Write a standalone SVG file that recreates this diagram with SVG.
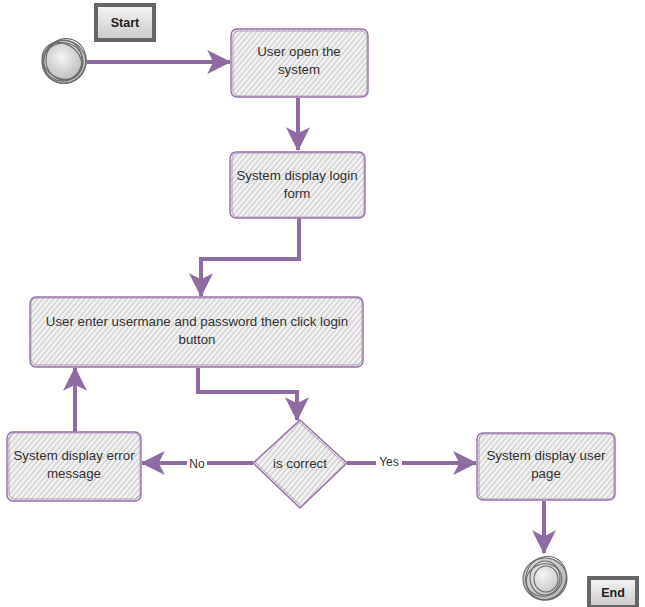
<svg xmlns="http://www.w3.org/2000/svg" width="645" height="607" viewBox="0 0 645 607">
  <defs>
    <pattern id="hatch" patternUnits="userSpaceOnUse" width="4" height="4" patternTransform="rotate(40)">
      <rect width="4" height="4" fill="#f4f4f4"/>
      <line x1="1" y1="0" x2="1" y2="4" stroke="#bcbcbc" stroke-width="1"/>
    </pattern>
    <radialGradient id="ball" cx="45%" cy="40%" r="60%">
      <stop offset="0" stop-color="#f4f4f4"/>
      <stop offset="1" stop-color="#b5b5b5"/>
    </radialGradient>
    <linearGradient id="tag" x1="0" y1="0" x2="0" y2="1">
      <stop offset="0" stop-color="#f6f6f6"/>
      <stop offset="1" stop-color="#c9c9c9"/>
    </linearGradient>
    <marker id="head" viewBox="0 0 10 10" refX="9.5" refY="5" markerWidth="6.2" markerHeight="6" markerUnits="strokeWidth" orient="auto">
      <path d="M0,0 L10,5 L0,10 L2.5,5 Z" fill="#8f6ba3"/>
    </marker>
  </defs>
  <style>
    .box { fill: url(#hatch); stroke: #9673a6; stroke-width: 1.4; }
    .box2 { fill: none; stroke: #a98bb8; stroke-width: 1; opacity: 0.8; }
    .lbl { font-family: "Liberation Sans", Arial, sans-serif; font-size: 13.3px; fill: #333; text-anchor: middle; }
    .edge { fill: none; stroke: #8f6ba3; stroke-width: 4; stroke-linejoin: miter; }
    .elbl { font-family: "Liberation Sans", Arial, sans-serif; font-size: 12px; fill: #333; text-anchor: middle; }
    .tagbox { fill: url(#tag); stroke: #666; stroke-width: 4; }
    .tagtxt { font-family: "Liberation Sans", Arial, sans-serif; font-size: 12.5px; font-weight: bold; fill: #222; text-anchor: middle; }
    .ring { fill: none; stroke: #6a6a6a; stroke-width: 1.1; }
  </style>

  <rect width="645" height="607" fill="#ffffff"/>

  <!-- connectors -->
  <g id="connectors">
    <path class="edge" d="M87,62 L230,62" marker-end="url(#head)"/>
    <path class="edge" d="M298,98 L298,150" marker-end="url(#head)"/>
    <path class="edge" d="M299,218 L299,259 L201,259 L201,296" marker-end="url(#head)"/>
    <path class="edge" d="M198,368 L198,392 L297,392 L297,420" marker-end="url(#head)"/>
    <path class="edge" d="M253,463 L142,463" marker-end="url(#head)"/>
    <path class="edge" d="M75,432 L75,368" marker-end="url(#head)"/>
    <path class="edge" d="M347,463 L476,463" marker-end="url(#head)"/>
    <path class="edge" d="M544,501 L544,553" marker-end="url(#head)"/>
    <rect x="187" y="456" width="20" height="14" fill="#ffffff"/>
    <text class="elbl" x="197" y="468">No</text>
    <rect x="376" y="456" width="26" height="14" fill="#ffffff"/>
    <text class="elbl" x="389" y="466">Yes</text>
  </g>

  <!-- start marker -->
  <g id="start">
    <rect class="tagbox" x="96" y="5" width="58" height="35"/>
    <text class="tagtxt" x="125" y="27">Start</text>
    <circle cx="64" cy="62" r="22" fill="url(#ball)"/>
    <ellipse class="ring" cx="64" cy="62" rx="22" ry="21.5"/>
    <ellipse class="ring" cx="65" cy="61" rx="21" ry="22.5" transform="rotate(20 65 61)"/>
    <ellipse class="ring" cx="63" cy="62" rx="20" ry="19" transform="rotate(-15 63 62)"/>
    <ellipse class="ring" cx="64" cy="60" rx="18" ry="20"/>
    <ellipse class="ring" cx="62" cy="61" rx="21" ry="17" transform="rotate(35 62 61)"/>
  </g>

  <g id="open-system">
    <rect class="box" x="231" y="29" width="137" height="68" rx="6"/>
    <rect class="box2" x="233" y="31" width="134" height="65" rx="6"/>
    <text class="lbl" x="299" y="56">User open the</text>
    <text class="lbl" x="299" y="74">system</text>
  </g>

  <g id="login-form">
    <rect class="box" x="230" y="152" width="135" height="66" rx="6"/>
    <rect class="box2" x="232" y="153" width="132" height="64" rx="6"/>
    <text class="lbl" x="297" y="180">System display login</text>
    <text class="lbl" x="297" y="198">form</text>
  </g>

  <g id="enter-credentials">
    <rect class="box" x="30" y="297" width="333" height="70" rx="6"/>
    <rect class="box2" x="31" y="298" width="331" height="67" rx="6"/>
    <text class="lbl" x="197" y="326">User enter usermane and password then click login</text>
    <text class="lbl" x="197" y="344">button</text>
  </g>

  <g id="is-correct">
    <path class="box" d="M300,420 L347,463 L300,508 L253,463 Z"/>
    <path class="box2" d="M299,422 L345,464 L301,506 L255,462 Z"/>
    <text class="lbl" x="300" y="468">is correct</text>
  </g>

  <g id="error-message">
    <rect class="box" x="7" y="432" width="134" height="69" rx="6"/>
    <rect class="box2" x="9" y="433" width="131" height="66" rx="6"/>
    <text class="lbl" x="74" y="460">System display error</text>
    <text class="lbl" x="74" y="478">message</text>
  </g>

  <g id="user-page">
    <rect class="box" x="477" y="433" width="138" height="67" rx="6"/>
    <rect class="box2" x="479" y="434" width="135" height="65" rx="6"/>
    <text class="lbl" x="546" y="460">System display user</text>
    <text class="lbl" x="546" y="478">page</text>
  </g>

  <!-- end marker -->
  <g id="end">
    <circle cx="545" cy="579" r="22" fill="url(#ball)"/>
    <ellipse class="ring" cx="545" cy="579" rx="22" ry="21"/>
    <ellipse class="ring" cx="546" cy="578" rx="20" ry="22" transform="rotate(25 546 578)"/>
    <ellipse class="ring" cx="544" cy="580" rx="18" ry="16" transform="rotate(-20 544 580)"/>
    <ellipse class="ring" cx="545" cy="578" rx="15" ry="17"/>
    <ellipse class="ring" cx="546" cy="579" rx="12" ry="13"/>
    <rect class="tagbox" x="589" y="578" width="48" height="29"/>
    <text class="tagtxt" x="613" y="597">End</text>
  </g>
</svg>
